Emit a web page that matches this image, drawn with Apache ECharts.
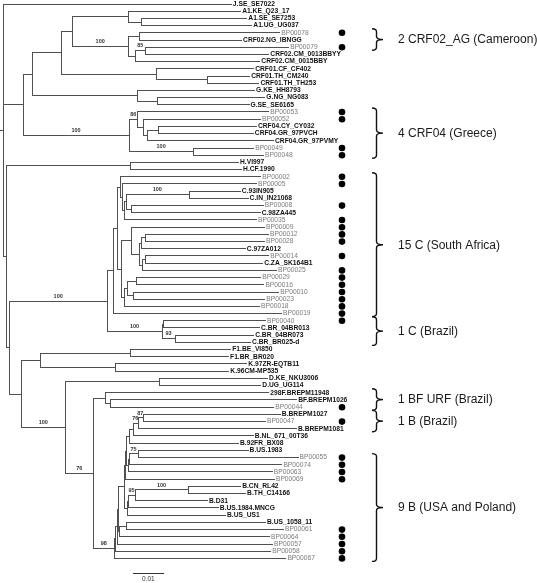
<!DOCTYPE html>
<html><head><meta charset="utf-8">
<script src="https://cdn.jsdelivr.net/npm/echarts@6/dist/echarts.min.js"></script>
<style>html,body{margin:0;padding:0;background:#fff}#c{width:537px;height:583px}</style>
</head><body><div id="c"></div>
<script>
// ---------- DATA (branch lengths in substitutions/site, bootstrap supports as node labels) ----------
const cladeA1 = "(A1.KE_Q23_17:0.0361,(A1.SE_SE7253:0.0339,A1.UG_UG037:0.0355):0.0042)";
const cladeCRF02 = "((BP00078:0.0452,CRF02.NG_IBNGG:0.0329):0.0035,((BP00079:0.0461,CRF02.CM_0013BBYY:0.0397)85:0.0032,CRF02.CM_0015BBY:0.0400):0.0023)100";
const cladeCRF01 = "(CRF01.CF_CF402:0.0313,(CRF01.TH_CM240:0.0135,CRF01.TH_TH253:0.0165):0.0165)";
const cladeG = "(G.KE_HH8793:0.0377,(G.NG_NG083:0.0345,G.SE_SE6165:0.0294):0.0065)";
const cladeCRF04 = "((BP00053:0.0423,(BP00052:0.0377,((CRF04.CY_CY032:0.0316,CRF04.GR_97PVCH:0.0306):0.0035,CRF04.GR_97PVMY:0.0406):0.0013):0.0019)86:0.0026,(BP00049:0.0194,BP00048:0.0226)100:0.0206)100";
const cladeH = "(H.VI997:0.0348,H.CF.1990:0.0358)";
const cladeCsa1 = "(BP00002:0.0452,(BP00005:0.0432,(((C.93IN905:0.0165,C.IN_IN21068:0.0190)100:0.0203,(BP00008:0.0426,C.98ZA445:0.0416):0.0016):0.0006,BP00035:0.0426):0.0006):0.0006)";
const cladeCsa2 = "((BP00009:0.0429,(((BP00012:0.0397,BP00028:0.0384):0.0013,C.97ZA012:0.0335):0.0006,((BP00014:0.0397,C.ZA_SK164B1:0.0377):0.0010,BP00025:0.0432):0.0010):0.0026):0.0032,(((BP00029:0.0400,BP00016:0.0410):0.0029,(BP00010:0.0468,BP00023:0.0423):0.0019):0.0010,BP00018:0.0435):0.0010)";
const cladeCbr = "((BP00040:0.0329,C.BR_04BR013:0.0310):0.0003,(C.BR_04BR073:0.0252,C.BR_BR025-d:0.0242)93:0.0042)100";
const cladeF1 = "(F1.BE_VI850:0.0323,F1.BR_BR020:0.0316)";
const cladeK = "(K.97ZR-EQTB11:0.0423,K.96CM-MP535:0.0365)";
const cladeD = "(D.KE_NKU3006:0.0348,D.UG_UG114:0.0326)";
const cladeBF = "(298F.BREPM11948:0.0526,(BF.BREPM1026:0.0600,BP00044:0.0526):0.0016)";
const cladeBtop = "((((((B.BREPM1027:0.0442,BP00047:0.0394)87:0.0016,B.BREPM1081:0.0510)76:0.0016,B.NL_671_00T36:0.0387):0.0013,B.92FR_BX08:0.0352):0.0010,(((B.US.1983:0.0355,BP00055:0.0516)75:0.0026,BP00074:0.0490):0.0006,BP00063:0.0465):0.0006):0.0003,BP00069:0.0481)";
const cladeBmid = "((((B.CN_RL42:0.0168,B.TH_C14166:0.0184)100:0.0171,B.D31:0.0232)95:0.0023,B.US.1984.MNCG:0.0290):0.0003,B.US_US1:0.0316)";
const cladeBlow = "((B.US_1058_11:0.0448,BP00061:0.0506):0.0023,BP00064:0.0484)";

const cladeB = "(((((" + cladeBtop + ":0.0003," + cladeBmid + ":0.0010):0.0019," + cladeBlow + ":0.0003):0.0003,BP00057:0.0500):0.0006,BP00058:0.0500):0.0003,BP00067:0.0552)98";
const cladeCsa = "((" + cladeCsa1 + ":0.0010," + cladeCsa2 + ":0.0013):0.0013,BP00019:0.0542)";
const cladeC = "(" + cladeCsa + ":0.0019," + cladeCbr + ":0.0177)100";
const cladeFKDB = "((" + cladeF1 + ":0.0290," + cladeK + ":0.0242):0.0061,(" + cladeD + ":0.0303,(" + cladeBF + ":0.0039," + cladeB + ":0.0068)76:0.0090)100:0.0142)";
const cladeLower = "(" + cladeH + ":0.0400,(" + cladeC + ":0.0316," + cladeFKDB + ":0.0039):0.0010)";
const cladeUpper = "((((" + cladeA1 + ":0.0181," + cladeCRF02 + ":0.0181):0.0035," + cladeCRF01 + ":0.0306):0.0095," + cladeG + ":0.0340):0.0029," + cladeCRF04 + ":0.0343)";
const treeNewick = "(J.SE_SE7022:0.0735," + cladeUpper + ":0.0064," + cladeLower + ":0.0010);";

const studySamples = ["BP00078","BP00079","BP00053","BP00052","BP00049","BP00048","BP00002","BP00005","BP00008","BP00035","BP00009","BP00012","BP00028","BP00014","BP00025","BP00029","BP00016","BP00010","BP00023","BP00018","BP00019","BP00040","BP00044","BP00047","BP00055","BP00074","BP00063","BP00069","BP00061","BP00064","BP00057","BP00058","BP00067"];

const bracketLabels = ["2 CRF02_AG (Cameroon)","4 CRF04 (Greece)","15 C (South Africa)","1 C (Brazil)","1 BF URF (Brazil)","1 B (Brazil)","9 B (USA and Poland)"];
const bracketFirst = ["BP00078","BP00053","BP00002","BP00040","298F.BREPM11948","B.BREPM1027","BP00055"];
const bracketLast = ["BP00079","BP00048","BP00019","C.BR_BR025-d","BP00044","B.BREPM1081","BP00067"];

const scaleBarLength = 0.01;
const scaleBarLabel = "0.01";

// ---------- TREE PARSING / LAYOUT ----------
function parseNewick(str) {
  const s = str.replace(/\s+/g, '');
  let i = 0;
  function node() {
    const n = {children: [], name: '', len: 0};
    if (s[i] === '(') {
      i++;
      n.children.push(node());
      while (s[i] === ',') { i++; n.children.push(node()); }
      i++;
    }
    let name = '';
    while (i < s.length && '(),:;'.indexOf(s[i]) < 0) name += s[i++];
    n.name = name;
    if (s[i] === ':') {
      i++; let num = '';
      while (i < s.length && '(),;'.indexOf(s[i]) < 0) num += s[i++];
      n.len = parseFloat(num);
    }
    return n;
  }
  return node();
}
const root = parseNewick(treeNewick);
const leaves = [];
function layout(n, px) {
  n.px = px; n.x = px + n.len;
  if (!n.children.length) { n.y = leaves.length; leaves.push(n); }
  else {
    n.children.forEach(c => layout(c, n.x));
    n.y = (n.children[0].y + n.children[n.children.length - 1].y) / 2;
  }
}
layout(root, 0);
const segs = [], supports = [];
function collect(n, isRoot) {
  if (isRoot) segs.push([-0.001, n.y, 0, n.y]);
  else segs.push([n.px, n.y, n.x, n.y]);
  if (n.children.length) {
    segs.push([n.x, n.children[0].y, n.x, n.children[n.children.length - 1].y]);
    if (n.name && !isRoot) supports.push({x: (n.px + n.x) / 2, y: n.y, t: n.name});
    n.children.forEach(c => collect(c, false));
  }
}
collect(root, true);
const idxOf = {};
leaves.forEach((l, i) => { idxOf[l.name] = i; });
const isSample = {};
studySamples.forEach(n => { isSample[n] = true; });

// ---------- CHART ----------
const chart = echarts.init(document.getElementById('c'), null, {renderer: 'canvas'});
const S = v => Math.round(v) + 0.5;
const DOT_X = 342, BR_X0 = 372, BR_X1 = 376.5, BR_X2 = 383, LABEL_X = 398;

chart.setOption({
  animation: false,
  backgroundColor: '#ffffff',
  grid: {left: 3, top: 3.5, width: 527, height: 554.4},
  xAxis: {type: 'value', min: 0, max: 0.17, show: false},
  yAxis: {type: 'value', min: 0, max: 77, inverse: true, show: false},
  series: [
    { // branches
      type: 'custom', silent: true, data: segs,
      renderItem: (params, api) => {
        const p1 = api.coord([api.value(0), api.value(1)]);
        const p2 = api.coord([api.value(2), api.value(3)]);
        return {type: 'line', shape: {x1: S(p1[0]), y1: S(p1[1]), x2: S(p2[0]), y2: S(p2[1])},
          style: {stroke: '#505050', lineWidth: 1, lineCap: 'square'}};
      }
    },
    { // leaf labels
      type: 'custom', silent: true, data: leaves.map(l => [l.x, l.y]),
      renderItem: (params, api) => {
        const p = api.coord([api.value(0), api.value(1)]);
        const nm = leaves[params.dataIndex].name;
        const samp = isSample[nm];
        return {type: 'text', x: p[0] + 2, y: p[1] + 0.5,
          style: {text: nm, fill: samp ? '#7c7c7c' : '#111111',
            font: (samp ? '' : 'bold ') + '6.7px "Liberation Sans", Arial, sans-serif',
            align: 'left', verticalAlign: 'middle'}};
      }
    },
    { // bootstrap supports
      type: 'custom', silent: true, data: supports.map(s => [s.x, s.y]),
      renderItem: (params, api) => {
        const p = api.coord([api.value(0), api.value(1)]);
        return {type: 'text', x: p[0], y: p[1] - 1.5,
          style: {text: supports[params.dataIndex].t, fill: '#333',
            font: 'bold 5.5px "Liberation Sans", Arial, sans-serif', align: 'center', verticalAlign: 'bottom'}};
      }
    },
    { // study sample dots
      type: 'custom', silent: true, data: studySamples.map(n => [0, idxOf[n]]),
      renderItem: (params, api) => {
        const p = api.coord([api.value(0), api.value(1)]);
        return {type: 'circle', shape: {cx: DOT_X, cy: p[1] + 0.5, r: 3.3}, style: {fill: '#000'}};
      }
    },
    { // brackets
      type: 'custom', silent: true, data: bracketLabels.map((b, i) => [idxOf[bracketFirst[i]], idxOf[bracketLast[i]]]),
      renderItem: (params, api) => {
        const a = api.coord([0, api.value(0)]), b = api.coord([0, api.value(1)]);
        const top = a[1] - 3.5, bot = b[1] + 3.5, mid = (top + bot) / 2, r = 3;
        const d = 'M' + BR_X0 + ' ' + top + ' Q' + BR_X1 + ' ' + top + ' ' + BR_X1 + ' ' + (top + r) +
          ' L' + BR_X1 + ' ' + (mid - r) + ' Q' + BR_X1 + ' ' + mid + ' ' + BR_X2 + ' ' + mid +
          ' Q' + BR_X1 + ' ' + mid + ' ' + BR_X1 + ' ' + (mid + r) +
          ' L' + BR_X1 + ' ' + (bot - r) + ' Q' + BR_X1 + ' ' + bot + ' ' + BR_X0 + ' ' + bot;
        return {type: 'group', children: [
          {type: 'path', shape: {pathData: d}, style: {stroke: '#111', fill: null, lineWidth: 1.4}},
          {type: 'text', x: LABEL_X, y: mid + 0.5, style: {text: bracketLabels[params.dataIndex], fill: '#1a1a1a',
            font: '12px "Liberation Sans", Arial, sans-serif', align: 'left', verticalAlign: 'middle'}}
        ]};
      }
    },
    { // scale bar
      type: 'custom', silent: true, data: [[0.0419, 0.0419 + scaleBarLength]],
      renderItem: (params, api) => {
        const p1 = api.coord([api.value(0), 0]), p2 = api.coord([api.value(1), 0]);
        const y = 573.5;
        return {type: 'group', children: [
          {type: 'line', shape: {x1: Math.round(p1[0]), y1: y, x2: Math.round(p2[0]), y2: y}, style: {stroke: '#333', lineWidth: 1}},
          {type: 'text', x: (p1[0] + p2[0]) / 2, y: 579, style: {text: scaleBarLabel, fill: '#333',
            font: '6.5px "Liberation Sans", Arial, sans-serif', align: 'center', verticalAlign: 'middle'}}
        ]};
      }
    }
  ]
});
</script></body></html>
